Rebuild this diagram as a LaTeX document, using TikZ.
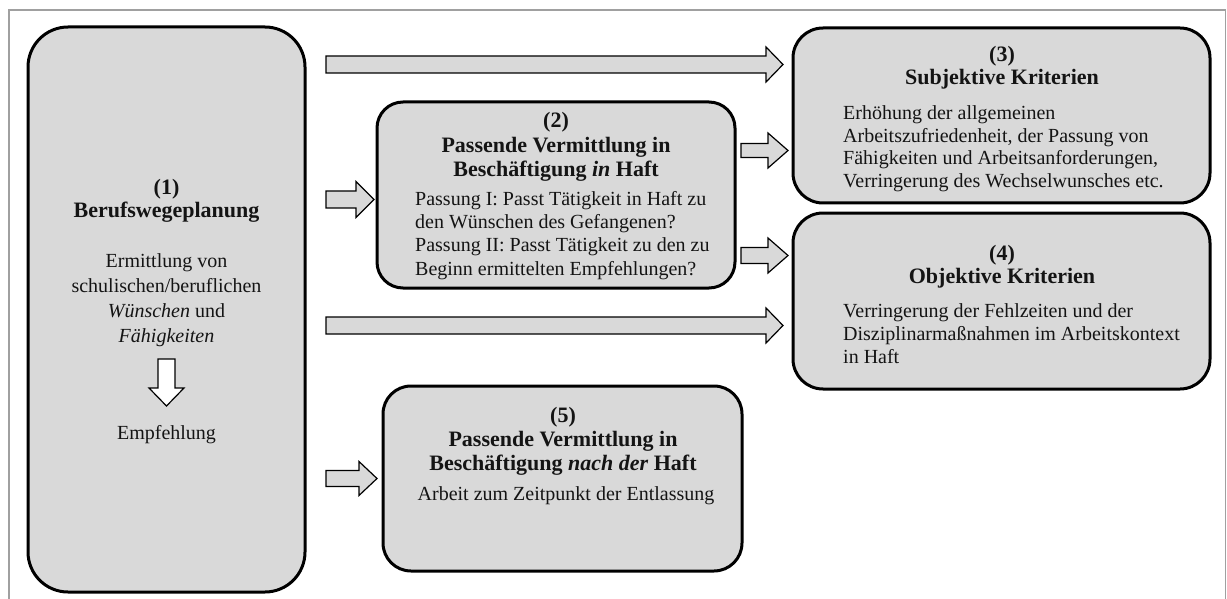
\documentclass[tikz,border=0pt]{standalone}
\usepackage{fontspec}
\setmainfont{Liberation Serif}
\definecolor{boxgray}{RGB}{217,217,217}
\definecolor{framegray}{RGB}{160,160,160}
\definecolor{inkc}{RGB}{20,20,20}
\newcommand\barrowh[6]{% x1, xhead, xtip, y, shaft half, head half
  \draw[arrbox] (#1,#4-#5) -- (#2,#4-#5) -- (#2,#4-#6) -- (#3,#4) -- (#2,#4+#6) -- (#2,#4+#5) -- (#1,#4+#5) -- cycle;}
\begin{document}
\begin{tikzpicture}[x=1pt,y=-1pt,
  box/.style={draw=black, line width=3pt, fill=boxgray, rectangle, inner sep=0pt, outer sep=0pt},
  arrbox/.style={draw=black, line width=1.2pt, fill=boxgray, line join=miter},
  ttl/.style={font={\fontsize{22}{24.5}\selectfont\bfseries}, text=inkc, align=center, inner sep=0pt},
  bodytxt/.style={font={\fontsize{20}{23}\selectfont}, text=inkc, inner sep=0pt}]
\useasboundingbox (0,0) rectangle (1227,599);
\fill[white] (0,0) rectangle (1227,599);
% frame
\draw[framegray, line width=1.5pt] (9,650) -- (9,10) -- (1225.5,10) -- (1225.5,650);
% boxes
\node[box, rounded corners=40pt, minimum width=277pt, minimum height=565pt] (b1) at (166.5,309.5) {};
\node[box, rounded corners=26pt, minimum width=358pt, minimum height=186pt] (b2) at (556,195) {};
\node[box, rounded corners=30pt, minimum width=417pt, minimum height=175pt] (b3) at (1001.5,115.5) {};
\node[box, rounded corners=30pt, minimum width=417pt, minimum height=176pt] (b4) at (1001.5,301) {};
\node[box, rounded corners=28pt, minimum width=359pt, minimum height=185pt] (b5) at (562.5,478.5) {};
% box 1 text (base anchor = last line's baseline)
\node[ttl, anchor=base, font={\fontsize{22}{24}\selectfont\bfseries}] (t1) at (166.5,218) {(1)\\Berufswegeplanung};
\node[bodytxt, align=center, anchor=base, font={\fontsize{20}{24.7}\selectfont}] (d1) at (166.5,342) {Ermittlung von\\schulischen/beruflichen\\\textit{Wünschen} und\\\textit{Fähigkeiten}};
\node[bodytxt, anchor=base] (e1) at (166.5,439) {Empfehlung};
\draw[arrbox, fill=white] (158,359) -- (175,359) -- (175,388) -- (184,388) -- (166.5,406) -- (149,388) -- (158,388) -- cycle;
% box 2 text
\node[ttl, anchor=base] (t2) at (556,177) {(2)\\Passende Vermittlung in\\Beschäftigung \textit{in} Haft};
\node[bodytxt, align=left, anchor=base west, font={\fontsize{20}{23.3}\selectfont}] (d2) at (415,275) {Passung I: Passt Tätigkeit in Haft zu\\den Wünschen des Gefangenen?\\Passung II: Passt Tätigkeit zu den zu\\Beginn ermittelten Empfehlungen?};
% box 3 text
\node[ttl, anchor=base, font={\fontsize{22}{23}\selectfont\bfseries}] (t3) at (1002,85) {(3)\\Subjektive Kriterien};
\node[bodytxt, align=left, anchor=base west, font={\fontsize{20}{22.4}\selectfont}] (d3) at (843,187) {Erhöhung der allgemeinen\\Arbeitszufriedenheit, der Passung von\\Fähigkeiten und Arbeitsanforderungen,\\Verringerung des Wechselwunsches etc.};
% box 4 text
\node[ttl, anchor=base, font={\fontsize{22}{23}\selectfont\bfseries}] (t4) at (1002,283) {(4)\\Objektive Kriterien};
\node[bodytxt, align=left, anchor=base west] (d4) at (843,363) {Verringerung der Fehlzeiten und der\\Disziplinarmaßnahmen im Arbeitskontext\\in Haft};
% box 5 text
\node[ttl, anchor=base, font={\fontsize{22}{24}\selectfont\bfseries}] (t5) at (563,470) {(5)\\Passende Vermittlung in\\Beschäftigung \textit{nach der} Haft};
\node[bodytxt, anchor=base] (d5) at (566,500) {Arbeit zum Zeitpunkt der Entlassung};
% block arrows
\barrowh{326}{766}{783}{64.5}{8.5}{17.5}
\barrowh{326}{766}{783}{325.5}{8.5}{17.5}
\barrowh{326}{356}{374}{199.5}{8.5}{18}
\barrowh{326}{359}{377}{478.5}{8}{17}
\barrowh{741}{768}{788}{150.5}{7}{17.5}
\barrowh{741}{768}{788}{255.5}{8}{17.5}
\end{tikzpicture}
\end{document}
